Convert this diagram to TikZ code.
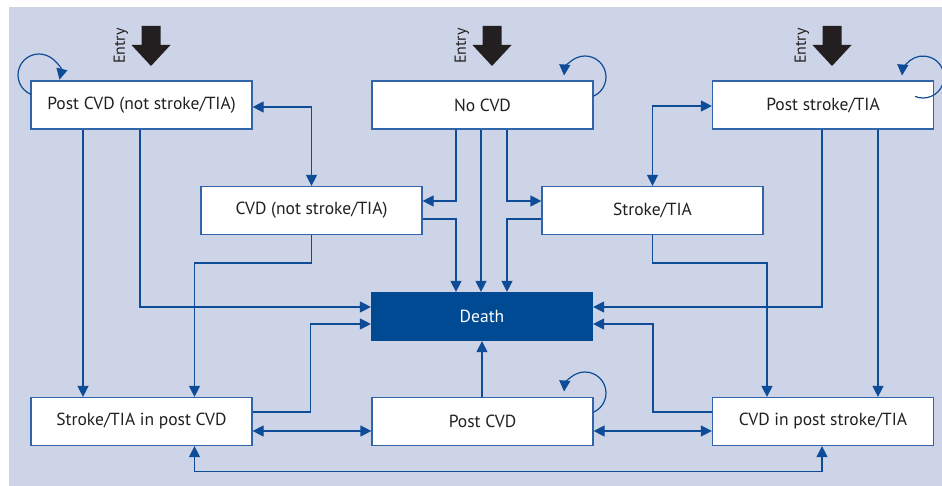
\documentclass[tikz,border=0pt]{standalone}
\usepackage{fontspec}
\setmainfont{PT Sans}
\usetikzlibrary{arrows.meta}
\definecolor{bg}{RGB}{206,212,232}
\definecolor{ln}{RGB}{14,76,151}
\definecolor{bd}{RGB}{50,100,170}
\definecolor{dth}{RGB}{0,74,147}
\definecolor{txt}{RGB}{35,31,32}
\tikzset{
  box/.style={draw=bd, line width=1.2pt, fill=white, minimum width=221pt, minimum height=48pt, inner sep=0pt, font=\fontsize{17.5}{20}\selectfont, text=txt},
  deathbox/.style={box, fill=dth, draw=dth, text=white},
  conn/.style={draw=ln, line width=1.2pt, -{Triangle[length=11pt,width=11pt]}},
  dbl/.style={conn, {Triangle[length=11pt,width=11pt]}-{Triangle[length=11pt,width=11pt]}},
  loopc/.style={conn},
  entryarr/.pic={
    \fill[txt] (-9.5,-40) -- (9.5,-40) -- (9.5,-21) -- (19.5,-21) -- (0,0) -- (-19.5,-21) -- (-9.5,-21) -- cycle;
    \node[rotate=90, text=txt, font=\fontsize{16}{18}\selectfont, inner sep=0pt] (-lbl) at (-30,-20) {Entry};
  }
}
\begin{document}
\begin{tikzpicture}[x=1pt,y=-1pt]
\useasboundingbox (0,0) rectangle (942,486);
\fill[bg] (9,7) rectangle (942,486);

\node[box] (pcvdn) at (141.5,105) {Post CVD (not stroke/TIA)};
\node[box] (nocvd) at (482.5,105) {No CVD};
\node[box] (pst) at (823,105) {Post stroke/TIA};
\node[box] (cvdn) at (311.5,210.5) {CVD (not stroke/TIA)};
\node[box] (st) at (652.5,210.5) {Stroke/TIA};
\node[deathbox] (death) at (482,316.5) {Death};
\node[box] (stpc) at (141.5,421.5) {Stroke/TIA in post CVD};
\node[box] (pc) at (482.5,421.5) {Post CVD};
\node[box] (cpst) at (823,421.5) {CVD in post stroke/TIA};

\pic (e1) at (151,66) {entryarr};
\pic (e2) at (492,66) {entryarr};
\pic (e3) at (832,66) {entryarr};

% self loops
\draw[loopc] (39,75) ++(112.4:21) arc[start angle=112.4, end angle=373, radius=21];
\draw[loopc] (585,77) ++(66:21) arc[start angle=66, end angle=-176, radius=21];
\draw[loopc] (923,77) ++(112:21) arc[start angle=112, end angle=-176, radius=21];
\draw[loopc] (585,393) ++(66:21) arc[start angle=66, end angle=-176, radius=21];

% connectors
\draw[dbl] ([yshift=-2pt]pcvdn.east) -| (cvdn.north);
\draw[dbl] ([yshift=-1pt]pst.west) -| (st.north);
\draw[conn] ([xshift=-26.5pt]nocvd.south) |- ([yshift=9.5pt]cvdn.east);
\draw[conn] ([xshift=24.5pt]nocvd.south) |- ([yshift=9.5pt]st.west);
\draw[conn] ([xshift=-1.5pt]nocvd.south) -- ([xshift=-1.5pt]nocvd.south |- death.north);
\draw[conn] ([yshift=-8.5pt]cvdn.east) -| ([xshift=-26pt]death.north);
\draw[conn] ([yshift=-8.5pt]st.west) -| ([xshift=25pt]death.north);
\draw[conn] ([xshift=-1.5pt]pcvdn.south) |- ([yshift=9.5pt]death.west);
\draw[conn] ([xshift=-58.5pt]pcvdn.south) -- ([xshift=-58.5pt]stpc.north);
\draw[conn] (cvdn.south) -- ++(0,28) -| ([xshift=53pt]stpc.north);
\draw[conn] ([yshift=9.5pt]stpc.east) -- ++(58,0) |- ([yshift=-7.5pt]death.west);
\draw[conn] ([xshift=-1pt]pst.south) |- ([yshift=9.5pt]death.east);
\draw[conn] ([xshift=55pt]pst.south) -- ([xshift=55pt]cpst.north);
\draw[conn] (st.south) -- ++(0,28) -| ([xshift=-56pt]cpst.north);
\draw[conn] ([yshift=9.5pt]cpst.west) -- ++(-59,0) |- ([yshift=-7.5pt]death.east);
\draw[conn] ([xshift=-0.5pt]pc.north) -- ([xshift=-0.5pt]pc.north |- death.south);
\draw[dbl] ([yshift=-9.5pt]stpc.east) -- ([yshift=-9.5pt]pc.west);
\draw[dbl] ([yshift=-9.5pt]pc.east) -- ([yshift=-9.5pt]cpst.west);
\draw[dbl] ([xshift=53pt]stpc.south) -- ++(0,25) -| ([xshift=-1pt]cpst.south);
\end{tikzpicture}
\end{document}
